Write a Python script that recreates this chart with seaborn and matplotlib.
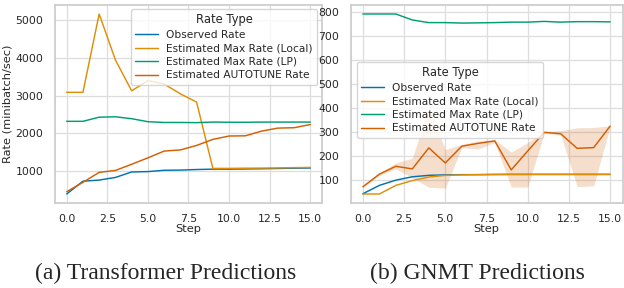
import numpy as np
import pandas as pd
import matplotlib
matplotlib.use("Agg")
import matplotlib.pyplot as plt
import seaborn as sns

steps = list(range(16))
rate_types = ["Observed Rate", "Estimated Max Rate (Local)",
              "Estimated Max Rate (LP)", "Estimated AUTOTUNE Rate"]

# (a) Transformer
tr_observed = [390, 730, 760, 830, 975, 985, 1020, 1025, 1040, 1050, 1050, 1055, 1060, 1068, 1075, 1080]
tr_local = [3090, 3090, 5170, 3950, 3130, 3400, 3310, 3050, 2830, 1070, 1070, 1075, 1078, 1082, 1090, 1095]
tr_lp = [2320, 2320, 2430, 2440, 2390, 2310, 2290, 2290, 2285, 2300, 2295, 2295, 2300, 2300, 2300, 2300]
tr_autotune = [450, 700, 965, 1015, 1180, 1350, 1530, 1560, 1680, 1840, 1930, 1935, 2060, 2140, 2150, 2235]

# (b) GNMT
gn_observed = [41, 76, 98, 112, 118, 120, 121, 121, 122, 122, 122, 122, 122, 122, 122, 122]
gn_local = [40, 40, 76, 96, 111, 118, 120, 121, 121, 122, 122, 122, 122, 122, 122, 122]
gn_lp = [793, 793, 793, 768, 757, 757, 755, 756, 757, 759, 759, 762, 759, 761, 761, 760]
gn_autotune = [70, 123, 156, 145, 233, 170, 240, 252, 262, 141, 220, 298, 292, 231, 234, 324]
gn_autotune_low = [68, 118, 145, 108, 68, 64, 234, 228, 256, 69, 69, 294, 288, 71, 74, 322]
gn_autotune_high = [72, 128, 170, 190, 405, 226, 248, 262, 268, 215, 255, 302, 305, 317, 318, 326]

captions = ["(a) Transformer Predictions", "(b) GNMT Predictions"]


def long_df(obs, loc, lp, auto):
    rows = []
    for name, vals in zip(rate_types, [obs, loc, lp, auto]):
        for s, v in zip(steps, vals):
            rows.append({"Step": s, "Rate": v, "Rate Type": name})
    return pd.DataFrame(rows)


sns.set_theme(style="whitegrid", palette="colorblind")
plt.rcParams["font.family"] = ["DejaVu Sans"]
pal = sns.color_palette("colorblind")

fig = plt.figure(figsize=(6.24, 2.88), dpi=100)
ax1 = fig.add_axes([54.5 / 624, 1 - 203 / 288, 268 / 624, 198 / 288])
ax2 = fig.add_axes([350.5 / 624, 1 - 203 / 288, 272 / 624, 198 / 288])

df1 = long_df(tr_observed, tr_local, tr_lp, tr_autotune)
df2 = long_df(gn_observed, gn_local, gn_lp, gn_autotune)

for ax, df in [(ax1, df1), (ax2, df2)]:
    sns.lineplot(data=df, x="Step", y="Rate", hue="Rate Type",
                 hue_order=rate_types, palette=pal[:4], errorbar=None,
                 linewidth=1.05, ax=ax)

ax2.fill_between(steps, gn_autotune_low, gn_autotune_high, color=pal[3],
                 alpha=0.2, linewidth=0)

tick_fs = 7.8
for ax in (ax1, ax2):
    ax.set_xticks([0, 2.5, 5, 7.5, 10, 12.5, 15])
    ax.set_xticklabels(["0.0", "2.5", "5.0", "7.5", "10.0", "12.5", "15.0"])
    ax.tick_params(labelsize=tick_fs, pad=2)
    ax.set_xlabel("Step", fontsize=8.2, labelpad=0)
    for sp in ax.spines.values():
        sp.set_color("#cccccc")
    ax.grid(True, color="#dddddd", linewidth=0.9)

ax1.set_ylabel("Rate (minibatch/sec)", fontsize=8.2, labelpad=2.5)
ax2.set_ylabel("")
ax1.set_yticks([1000, 2000, 3000, 4000, 5000])
ax2.set_yticks([100, 200, 300, 400, 500, 600, 700, 800])

leg_kw = dict(title="Rate Type", loc="upper left", borderaxespad=0,
              fontsize=7.7, title_fontsize=8.3, handlelength=2.1,
              labelspacing=0.33, borderpad=0.4)
leg1 = ax1.legend(bbox_to_anchor=((131 - 54.5) / 268, (203 - 9) / 198), **leg_kw)
leg2 = ax2.legend(bbox_to_anchor=((357 - 350.5) / 272, (203 - 62) / 198), **leg_kw)
for leg in (leg1, leg2):
    leg.get_frame().set_edgecolor("#cccccc")
    leg.get_frame().set_alpha(0.8)

fig.text(165.5 / 624, 1 - 279 / 288, captions[0], ha="center", va="baseline",
         fontsize=17, family="Liberation Serif")
fig.text(477 / 624, 1 - 279 / 288, captions[1], ha="center", va="baseline",
         fontsize=17, family="Liberation Serif")

fig.savefig("out.png", dpi=100)
